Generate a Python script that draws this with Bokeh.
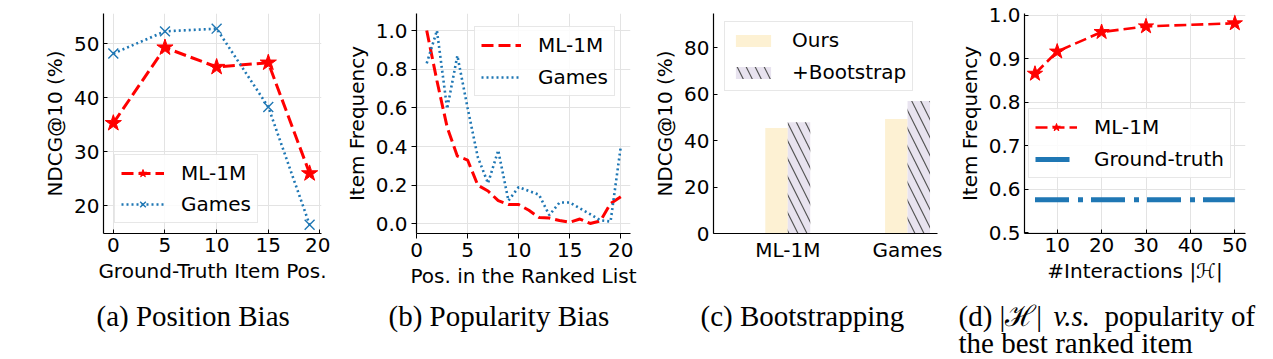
from bokeh.plotting import figure
from bokeh.models import (Range1d, Legend, LegendItem, ColumnDataSource, FixedTicker,
                          PrintfTickFormatter)
from bokeh.layouts import row, column
from bokeh.transform import dodge
from bokeh.embed import file_html
from bokeh.resources import INLINE
from bokeh.core.properties import value

# ---------------- data ----------------
# (a) Position Bias
pos_x = [0, 5, 10, 15, 19]
pos_ml1m = [35.3, 49.3, 45.7, 46.5, 26.0]
pos_games = [48.2, 52.3, 52.8, 38.3, 16.5]
pos_xticks = [0, 5, 10, 15, 20]
pos_yticks = [20, 30, 40, 50]

# (b) Popularity Bias
rank_x = list(range(1, 21))
pop_ml1m = [1.0, 0.74, 0.50, 0.35, 0.33, 0.20, 0.17, 0.12, 0.10, 0.10,
            0.07, 0.033, 0.03, 0.017, 0.008, 0.025, 0.002, 0.015, 0.105, 0.14]
pop_games = [0.83, 1.0, 0.595, 0.87, 0.60, 0.345, 0.21, 0.38, 0.12, 0.19,
             0.17, 0.15, 0.045, 0.11, 0.11, 0.08, 0.05, 0.018, 0.012, 0.40]
rank_xticks = [0, 5, 10, 15, 20]
rank_yticks = [0.0, 0.2, 0.4, 0.6, 0.8, 1.0]

# (c) Bootstrapping
boot_datasets = ["ML-1M", "Games"]
boot_ours = [45.4, 49.3]
boot_plus = [47.9, 57.0]
boot_yticks = [0, 20, 40, 60, 80]

# (d) |H| vs popularity
hist_x = [5, 10, 20, 30, 50]
hist_ml1m = [0.866, 0.917, 0.962, 0.975, 0.982]
ground_truth = 0.576
hist_xticks = [10, 20, 30, 40, 50]
hist_yticks = [0.5, 0.6, 0.7, 0.8, 0.9, 1.0]

# captions
cap_text = ["(a) Position Bias", "(b) Popularity Bias", "(c) Bootstrapping",
            "(d) |\u210b|", "popularity of", "the best ranked item"]
cap_x = [96, 388, 700, 958, 1104, 958]
cap_y = [315.5, 315.5, 315.5, 315.5, 315.5, 342]
cap_it_text = ["v.s."]
cap_it_x = [1053]
cap_it_y = [315.5]

RED = "#ff0000"
BLUE = "#1f77b4"
FONT = "DejaVu Sans"
TICK_FS = "20px"
LAB_FS = "20px"
TOP = 13
BOTTOM = 57


def style(p, tick_in=True, grid=True):
    p.outline_line_color = None
    p.background_fill_color = "white"
    p.border_fill_color = "white"
    for ax in p.axis:
        ax.axis_line_color = "black"
        ax.axis_line_width = 1.2
        ax.major_tick_line_color = "black"
        ax.major_tick_line_width = 1
        if tick_in:
            ax.major_tick_in = 4
            ax.major_tick_out = 0
        else:
            ax.major_tick_in = 0
            ax.major_tick_out = 5
        ax.minor_tick_line_color = None
        ax.major_label_text_font = FONT
        ax.major_label_text_font_size = TICK_FS
        ax.major_label_text_color = "black"
        ax.axis_label_text_font = FONT
        ax.axis_label_text_font_size = LAB_FS
        ax.axis_label_text_font_style = "normal"
        ax.axis_label_text_color = "black"
        ax.major_label_standoff = 4
        ax.axis_label_standoff = 4
    if grid:
        p.xgrid.grid_line_color = "#e3e3e3"
        p.ygrid.grid_line_color = "#e3e3e3"
        p.xgrid.grid_line_width = 1
        p.ygrid.grid_line_width = 1
    else:
        p.xgrid.visible = False
        p.ygrid.visible = False


def style_legend(lg):
    lg.label_text_font = FONT
    lg.label_text_font_size = LAB_FS
    lg.label_text_color = "black"
    lg.border_line_color = "#d0d0d0"
    lg.border_line_width = 1
    lg.background_fill_color = "white"
    lg.background_fill_alpha = 0.85
    lg.glyph_width = 43
    lg.glyph_height = 20
    lg.label_height = 20
    lg.label_standoff = 17
    lg.padding = 6
    lg.spacing = 7
    lg.margin = 0


# ---------------- (a) ----------------
fa = figure(width=330, height=290, x_range=Range1d(-0.95, 20.15), y_range=Range1d(14.87, 55.61),
            output_backend="svg", toolbar_location=None, title=None,
            min_border_left=103, min_border_right=9, min_border_top=TOP, min_border_bottom=BOTTOM)
fa.xaxis.axis_label = "Ground-Truth Item Pos."
fa.yaxis.axis_label = "NDCG@10 (%)"
fa.xaxis.ticker = FixedTicker(ticks=pos_xticks)
fa.yaxis.ticker = FixedTicker(ticks=pos_yticks)
style(fa, tick_in=True)
la1 = fa.line(pos_x, pos_ml1m, line_color=RED, line_width=3, line_dash="12 5")
sa1 = fa.scatter(pos_x, pos_ml1m, marker="star", size=17, fill_color=RED, line_color=RED)
la2 = fa.line(pos_x, pos_games, line_color=BLUE, line_width=2.6, line_dash="2 3")
sa2 = fa.scatter(pos_x, pos_games, marker="x", size=14, line_color=BLUE, line_width=1.4)
lega = Legend(items=[LegendItem(label="ML-1M", renderers=[la1, sa1]),
                     LegendItem(label="Games", renderers=[la2, sa2])],
              location=(11, 10))
style_legend(lega)
fa.add_layout(lega)

# ---------------- (b) ----------------
fb = figure(width=310, height=290, x_range=Range1d(-0.001, 20.95), y_range=Range1d(-0.05, 1.088),
            output_backend="svg", toolbar_location=None, title=None,
            min_border_left=86, min_border_right=10, min_border_top=TOP, min_border_bottom=BOTTOM)
fb.xaxis.axis_label = "Pos. in the Ranked List"
fb.yaxis.axis_label = "Item Frequency"
fb.xaxis.ticker = FixedTicker(ticks=rank_xticks)
fb.yaxis.ticker = FixedTicker(ticks=rank_yticks)
fb.yaxis.formatter = PrintfTickFormatter(format="%.1f")
style(fb, tick_in=False)
lb1 = fb.line(rank_x, pop_ml1m, line_color=RED, line_width=3, line_dash="12 5")
lb2 = fb.line(rank_x, pop_games, line_color=BLUE, line_width=2.6, line_dash="2 3")
legb = Legend(items=[LegendItem(label="ML-1M", renderers=[lb1]),
                     LegendItem(label="Games", renderers=[lb2])],
              location=(58, 137))
style_legend(legb)
legb.glyph_width = 40
legb.spacing = 8
fb.add_layout(legb)

# ---------------- (c) ----------------
fc = figure(width=310, height=290, x_range=Range1d(-0.62, 1.25), y_range=Range1d(0, 94.7),
            output_backend="svg", toolbar_location=None, title=None,
            min_border_left=73, min_border_right=13, min_border_top=TOP, min_border_bottom=BOTTOM)
fc.yaxis.axis_label = "NDCG@10 (%)"
fc.xaxis.ticker = FixedTicker(ticks=list(range(len(boot_datasets))))
fc.xaxis.major_label_overrides = {i: n for i, n in enumerate(boot_datasets)}
fc.yaxis.ticker = FixedTicker(ticks=boot_yticks)
style(fc, tick_in=True, grid=False)
fc.xaxis.major_tick_line_color = None
srcc = ColumnDataSource(dict(x=list(range(len(boot_datasets))), ours=boot_ours, plus=boot_plus))
bw = 0.1876
rc1 = fc.vbar(x=dodge("x", -bw / 2), top="ours", width=bw, source=srcc,
              fill_color="#fdf1d3", line_color=None)
rc2 = fc.vbar(x=dodge("x", bw / 2), top="plus", width=bw, source=srcc,
              fill_color="#e8e3ef", line_color=None,
              hatch_pattern="\\", hatch_color="#555555", hatch_scale=18, hatch_weight=1.2)
legc = Legend(items=[LegendItem(label="Ours", renderers=[rc1]),
                     LegendItem(label="+Bootstrap", renderers=[rc2])],
              location=(11, 142))
style_legend(legc)
legc.glyph_width = 44
legc.glyph_height = 15
legc.spacing = 8
fc.add_layout(legc)

# ---------------- (d) ----------------
fd = figure(width=323, height=290, x_range=Range1d(2.64, 52.4), y_range=Range1d(0.4984, 1.0046),
            output_backend="svg", toolbar_location=None, title=None,
            min_border_left=74, min_border_right=28, min_border_top=TOP, min_border_bottom=BOTTOM)
fd.xaxis.axis_label = "#Interactions |\u210b|"
fd.yaxis.axis_label = "Item Frequency"
fd.xaxis.ticker = FixedTicker(ticks=hist_xticks)
fd.yaxis.ticker = FixedTicker(ticks=hist_yticks)
fd.yaxis.formatter = PrintfTickFormatter(format="%.1f")
style(fd, tick_in=True)
ld1 = fd.line(hist_x, hist_ml1m, line_color=RED, line_width=2.6, line_dash="12 5")
sd1 = fd.scatter(hist_x, hist_ml1m, marker="star", size=16, fill_color=RED, line_color=RED)
ld2 = fd.line([hist_x[0], hist_x[-1]], [ground_truth, ground_truth], line_color=BLUE,
              line_width=5, line_dash="34 9 5 8")
legd = Legend(items=[LegendItem(label="ML-1M", renderers=[ld1, sd1]),
                     LegendItem(label="Ground-truth", renderers=[ld2])],
              location=(4, 55))
style_legend(legd)
legd.glyph_width = 42
legd.spacing = 8
fd.add_layout(legd)

# ---------------- captions ----------------
fcap = figure(width=1273, height=69, x_range=Range1d(0, 1273), y_range=Range1d(359, 290),
              output_backend="svg", toolbar_location=None, title=None,
              min_border=0, min_border_left=0, min_border_right=0,
              min_border_top=0, min_border_bottom=0)
fcap.axis.visible = False
fcap.xgrid.visible = False
fcap.ygrid.visible = False
fcap.outline_line_color = None
fcap.text(x=cap_x, y=cap_y, text=cap_text, text_font=value("Liberation Serif"),
          text_font_size="29px", text_color="black", text_baseline="alphabetic",
          text_align="left")
fcap.text(x=cap_it_x, y=cap_it_y, text=cap_it_text, text_font=value("Liberation Serif"),
          text_font_size="29px", text_font_style="italic", text_color="black",
          text_baseline="alphabetic", text_align="left")

layout = column(row(fa, fb, fc, fd), fcap)
open("out.html", "w").write(file_html(layout, INLINE))
